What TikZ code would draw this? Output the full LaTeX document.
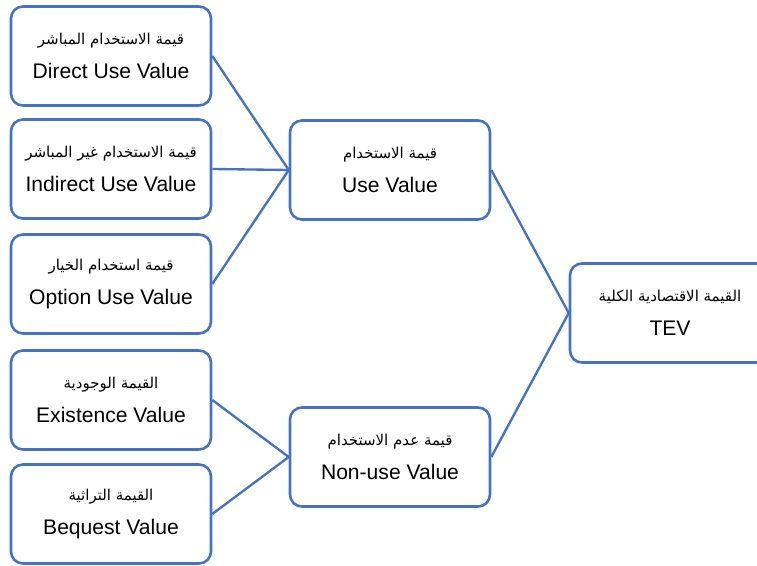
\documentclass[tikz,border=0pt]{standalone}
\usepackage{fontspec}
\setmainfont{Liberation Sans}
\newfontfamily\arabicfont[Script=Arabic]{DejaVu Sans}
\TeXXeTstate=1
\definecolor{boxblue}{HTML}{4472C4}
\newcommand{\arline}[1]{{\arabicfont\fontsize{12.8}{18}\selectfont\beginR #1\endR}}
\tikzset{
  valuebox/.style={draw=boxblue, line width=2.2pt, rounded corners=0.36cm, fill=white,
    minimum width=6cm, minimum height=2.97cm, align=center,
    font=\fontsize{18}{20}\selectfont},
  link/.style={draw=boxblue, line width=2pt}
}
\begin{document}
\begin{tikzpicture}[x=0.03cm, y=-0.03cm]
\useasboundingbox (0,0) rectangle (757,566);

% Left column: the single values
\node[valuebox] (direct) at (111, 56) {\arline{قيمة الاستخدام المباشر}\\[9pt]Direct Use Value};
\node[valuebox] (indirect) at (111, 169) {\arline{قيمة الاستخدام غير المباشر}\\[9pt]Indirect Use Value};
\node[valuebox] (option) at (111, 284) {\arline{قيمة استخدام الخيار}\\[9pt]Option Use Value};
\node[valuebox] (exist) at (111, 400) {\arline{القيمة الوجودية}\\[9pt]Existence Value};
\node[valuebox] (bequest) at (111, 514) {\arline{القيمة التراثية}\\[9pt]Bequest Value};

% Middle column
\node[valuebox] (use) at (390, 170) {\arline{قيمة الاستخدام}\\[9pt]Use Value};
\node[valuebox] (nonuse) at (390, 457) {\arline{قيمة عدم الاستخدام}\\[9pt]Non-use Value};

% Total value, cut by the right edge
\node[valuebox] (tev) at (670, 313) {\arline{القيمة الاقتصادية الكلية}\\[9pt]TEV};

% Connectors
\draw[link] (direct.east) -- (use.west);
\draw[link] (indirect.east) -- (use.west);
\draw[link] (option.east) -- (use.west);
\draw[link] (exist.east) -- (nonuse.west);
\draw[link] (bequest.east) -- (nonuse.west);
\draw[link] (use.east) -- (tev.west);
\draw[link] (nonuse.east) -- (tev.west);
\end{tikzpicture}
\end{document}
